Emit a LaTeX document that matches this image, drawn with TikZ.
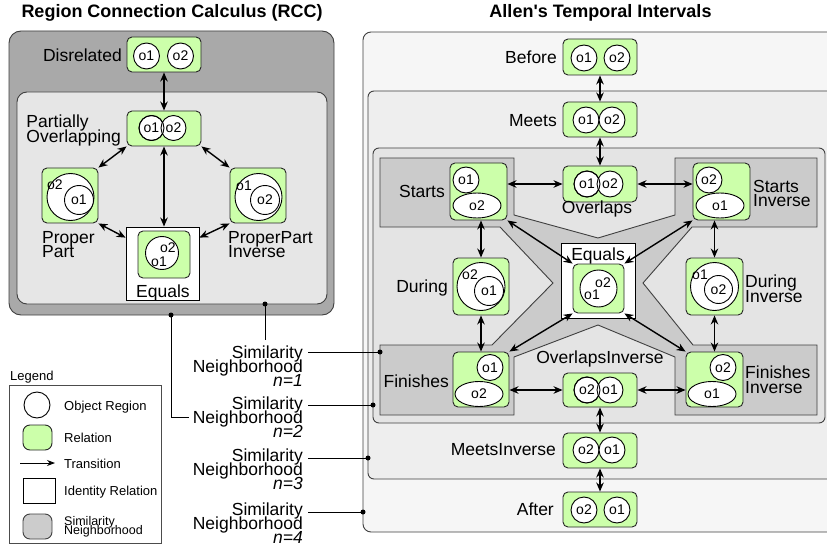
\documentclass[tikz,border=0pt]{standalone}
\usepackage{fontspec}
\setmainfont{Liberation Sans}[Ligatures=TeXOff]
\usetikzlibrary{arrows.meta,shapes.geometric}
\newcommand\myfs[2]{\fontsize{#1}{#2}\selectfont\lineskiplimit=-40pt\lineskip=0pt\relax}
\definecolor{relgreen}{HTML}{CCFFAA}
\definecolor{rccdark}{HTML}{A9A9A9}
\definecolor{rcclight}{HTML}{E6E6E6}
\definecolor{allout}{HTML}{F6F6F6}
\definecolor{alln3}{HTML}{EEEEEE}
\definecolor{alln2}{HTML}{E4E4E4}
\definecolor{alln1}{HTML}{CBCBCB}
\definecolor{leggray}{HTML}{CCCCCC}
\begin{document}
\begin{tikzpicture}[x=1pt,y=-1pt,
  rel/.style={draw=black!85, fill=relgreen, rounded corners=5pt, line width=0.9pt, inner sep=0pt},
  idbox/.style={draw=black, fill=white, line width=0.9pt, inner sep=0pt},
  obj/.style={circle, draw=black, fill=white, line width=0.9pt, inner sep=0pt, minimum size=26pt, font=\myfs{14}{14}},
  oell/.style={ellipse, draw=black, fill=white, line width=0.9pt, inner sep=0pt, minimum width=48pt, minimum height=25pt, font=\myfs{14}{14}},
  otxt/.style={inner sep=0pt, font=\myfs{14}{14}},
  lbl/.style={inner sep=0pt, font=\myfs{17.5}{14.5}},
  simlbl/.style={inner sep=0pt, font=\myfs{17.5}{14}, align=right},
  ttl/.style={inner sep=0pt, font=\bfseries\myfs{18}{18}},
  trans/.style={{Stealth[length=9pt,width=7.5pt]}-{Stealth[length=9pt,width=7.5pt]}, line width=1.4pt},
  region/.style={draw=black!75, line width=0.9pt},
  conn/.style={line width=0.9pt},
  dot/.style={circle, fill=black, inner sep=0pt, minimum size=5pt},
  legtxt/.style={inner sep=0pt, font=\myfs{13}{13}, anchor=base west},
]
\useasboundingbox (0,0) rectangle (827,548);
\clip (0,0) rectangle (827,548);
\fill[white] (0,0) rectangle (827,548);

% ---------------- RCC ----------------
\node[ttl, anchor=base] (t1) at (172,18) {Region Connection Calculus (RCC)};
\draw[region, fill=rccdark, rounded corners=12pt] (9,31) rectangle (334,315);
\draw[region, fill=rcclight, rounded corners=10pt] (17,92) rectangle (327,304);

\node[idbox, minimum width=73pt, minimum height=73pt] (reqw) at (162.5,263.5) {};

\node[rel, minimum width=74pt, minimum height=35pt] (dis) at (164,54.5) {};
\node[rel, minimum width=74pt, minimum height=35pt] (po) at (164,128.5) {};
\node[rel, minimum width=56pt, minimum height=55pt] (pp) at (70,195.5) {};
\node[rel, minimum width=56pt, minimum height=55pt] (ppi) at (258,195.5) {};
\node[rel, minimum width=52pt, minimum height=47pt] (req) at (164,254.5) {};

\node[obj] (dis1) at (146.5,56) {o1};
\node[obj] (dis2) at (180.5,56) {o2};
\node[obj, minimum size=25pt] (po1) at (151.5,128) {o1};
\node[obj, minimum size=25pt] (po2) at (173.5,128) {o2};
\draw[line width=0.9pt] (po1.center) circle (12.5);
\node[obj, minimum size=47pt] (ppb) at (70.5,197) {};
\node[obj, minimum size=29pt] (pps) at (79,200) {o1};
\node[otxt] (ppt) at (55,185) {o2};
\node[obj, minimum size=47pt] (ppib) at (258.5,197) {};
\node[obj, minimum size=29pt] (ppis) at (265,200) {o2};
\node[otxt] (ppit) at (244,186) {o1};
\node[obj, minimum size=33pt] (reqc) at (162,253) {};
\node[otxt] (reqt2) at (168,248) {o2};
\node[otxt] (reqt1) at (159,262) {o1};

\draw[trans] (dis.south) -- (po.north);
\draw[trans] (po.south) -- (po.south |- reqw.north);
\draw[trans] (po.south west) -- (pp.north east);
\draw[trans] (po.south east) -- (ppi.north west);
\draw[trans] (pp.south east) -- (reqw.145);
\draw[trans] (ppi.south west) -- (reqw.35);

\node[lbl, anchor=base east] (ldis) at (122,62) {Disrelated};
\node[lbl, anchor=north east, align=left] (lpo) at (121,115) {Partially\\Overlapping};
\node[lbl, anchor=north west, align=left] (lpp) at (42,231) {Proper\\Part};
\node[lbl, anchor=north west, align=left] (lppi) at (228,231) {ProperPart\\Inverse};
\node[lbl, anchor=base] (leq) at (163,297) {Equals};

% ---------------- Allen ----------------
\node[ttl, anchor=base] (t2) at (600.5,18) {Allen's Temporal Intervals};
\draw[region, fill=allout, rounded corners=8pt] (363,32) rectangle (860,532);
\draw[region, fill=alln3, rounded corners=6pt] (368,91) rectangle (850,479);
\draw[region, fill=alln2, rounded corners=6pt] (373,148) rectangle (825,423);
\draw[region, fill=alln1] (380,158) -- (514,158) -- (514,215) -- (598,238) -- (675,215) -- (675,158)
  -- (817,158) -- (817,227) -- (692,227) -- (643,283) -- (693,345) -- (817,345) -- (817,415)
  -- (675,415) -- (675,357) -- (598,325) -- (514,357) -- (514,415) -- (380,415) -- (380,345)
  -- (492,345) -- (553,283) -- (500,227) -- (380,227) -- cycle;

\node[idbox, minimum width=74pt, minimum height=75pt] (aeqw) at (598,280.5) {};

\node[rel, minimum width=74pt, minimum height=36pt] (bef) at (600,57) {};
\node[rel, minimum width=74pt, minimum height=35pt] (meets) at (600,119.5) {};
\node[rel, minimum width=74pt, minimum height=36pt] (ovl) at (600,184) {};
\node[rel, minimum width=57pt, minimum height=57pt] (starts) at (478.5,191.5) {};
\node[rel, minimum width=57pt, minimum height=57pt] (sinv) at (721.5,191.5) {};
\node[rel, minimum width=56pt, minimum height=57pt] (during) at (481,286.5) {};
\node[rel, minimum width=57pt, minimum height=57pt] (dinv) at (714.5,286.5) {};
\node[rel, minimum width=56pt, minimum height=55pt] (fin) at (481,379.5) {};
\node[rel, minimum width=57pt, minimum height=55pt] (finv) at (714.5,379.5) {};
\node[rel, minimum width=74pt, minimum height=34pt] (ovi) at (600,390) {};
\node[rel, minimum width=74pt, minimum height=35pt] (minv) at (600,450.5) {};
\node[rel, minimum width=74pt, minimum height=35pt] (after) at (600,509.5) {};
\node[rel, minimum width=51pt, minimum height=49pt] (aeq) at (598.5,288.5) {};

\node[obj] (bef1) at (584,58) {o1};
\node[obj] (bef2) at (617,58) {o2};
\node[obj] (meets1) at (586,120) {o1};
\node[obj] (meets2) at (612,120) {o2};
\node[obj] (ovl1) at (587,184) {o1};
\node[obj] (ovl2) at (610,184) {o2};
\draw[line width=0.9pt] (ovl1.center) circle (13);
\node[obj] (st1) at (466,180) {o1};
\node[oell] (st2) at (477,205.5) {o2};
\node[obj] (si2) at (709,180) {o2};
\node[oell] (si1) at (720,205.5) {o1};
\node[obj, minimum size=48pt] (dub) at (481,286.5) {};
\node[obj, minimum size=29pt] (dus) at (489,291) {o1};
\node[otxt] (dut) at (470,275) {o2};
\node[obj, minimum size=48pt] (dib) at (714.5,286.5) {};
\node[obj, minimum size=28pt] (dis) at (718.5,289.5) {o2};
\node[otxt] (dit) at (700,275) {o1};
\node[obj] (fi1) at (490,367.5) {o1};
\node[oell] (fi2) at (479,394) {o2};
\node[obj] (fv2) at (723,367.5) {o2};
\node[oell] (fv1) at (712,394) {o1};
\node[obj] (ovi2) at (587,390) {o2};
\node[obj] (ovi1) at (610,390) {o1};
\draw[line width=0.9pt] (ovi2.center) circle (13);
\node[obj] (mi2) at (586,450) {o2};
\node[obj] (mi1) at (612,450) {o1};
\node[obj] (af2) at (584,510) {o2};
\node[obj] (af1) at (617,510) {o1};
\node[obj, minimum size=37pt] (aeqc) at (598.5,288.5) {};
\node[otxt] (aeqt2) at (603,283) {o2};
\node[otxt] (aeqt1) at (592,295) {o1};

\draw[trans] (bef.south) -- (meets.north);
\draw[trans] (meets.south) -- (ovl.north);
\draw[trans] (ovl.west -| starts.east) -- (ovl.west);
\draw[trans] (ovl.east) -- (ovl.east -| sinv.west);
\draw[trans] (during.north |- starts.south) -- (during.north);
\draw[trans] (dinv.north |- sinv.south) -- (dinv.north);
\draw[trans] (during.south) -- (during.south |- fin.north);
\draw[trans] (dinv.south) -- (dinv.south |- finv.north);
\draw[trans] (fin.east |- ovi.west) -- (ovi.west);
\draw[trans] (ovi.east) -- (ovi.east -| finv.west);
\draw[trans] (ovi.south) -- (minv.north);
\draw[trans] (minv.south) -- (after.north);
\draw[trans] (starts.south east) -- (aeq.north west);
\draw[trans] (sinv.south west) -- (aeq.north east);
\draw[trans] (fin.north east) -- (aeq.south west);
\draw[trans] (finv.north west) -- (aeq.south east);

\node[lbl, anchor=base east] (lbef) at (557,64) {Before};
\node[lbl, anchor=base east] (lmeets) at (557,127) {Meets};
\node[lbl, anchor=base east] (lstarts) at (445,198) {Starts};
\node[lbl, anchor=base] (lovl) at (597,214) {Overlaps};
\node[lbl, anchor=north west, align=left] (lsinv) at (753,180) {Starts\\Inverse};
\node[lbl, anchor=base] (laeq) at (598,260) {Equals};
\node[lbl, anchor=base east] (ldur) at (448,292) {During};
\node[lbl, anchor=north west, align=left] (ldinv) at (745,275) {During\\Inverse};
\node[lbl, anchor=base east] (lfin) at (449,387) {Finishes};
\node[lbl, anchor=base] (lovi) at (600,363) {OverlapsInverse};
\node[lbl, anchor=north west, align=left] (lfinv) at (745,366) {Finishes\\Inverse};
\node[lbl, anchor=base east] (lminv) at (556,455) {MeetsInverse};
\node[lbl, anchor=base east] (lafter) at (554,515) {After};

% ---------------- Similarity neighborhoods ----------------
\node[simlbl, anchor=north east] (sn1) at (303,346) {Similarity\\Neighborhood\\{\itshape n=1}};
\node[simlbl, anchor=north east] (sn2) at (303,397) {Similarity\\Neighborhood\\{\itshape n=2}};
\node[simlbl, anchor=north east] (sn3) at (303,449) {Similarity\\Neighborhood\\{\itshape n=3}};
\node[simlbl, anchor=north east] (sn4) at (303,503) {Similarity\\Neighborhood\\{\itshape n=4}};

\coordinate (s1) at (308,352);
\coordinate (s2) at (308,405);
\coordinate (s3) at (308,458);
\coordinate (s4) at (308,512);
\node[dot] (d1) at (380,352) {};
\node[dot] (d2) at (373,405) {};
\node[dot] (d3) at (368,458) {};
\node[dot] (d4) at (363,512) {};
\draw[conn] (s1) -- (d1.center);
\draw[conn] (s2) -- (d2.center);
\draw[conn] (s3) -- (d3.center);
\draw[conn] (s4) -- (d4.center);

\node[dot] (r1) at (265,304) {};
\coordinate (r1e) at (265,340);
\draw[conn] (r1.center) -- (r1e);
\node[dot] (r2) at (171,315) {};
\coordinate (r2e) at (189,417);
\draw[conn] (r2.center) |- (r2e);

% ---------------- Legend ----------------
\node[legtxt] (lgt) at (10,380) {Legend};
\draw[draw=black!70, fill=white, line width=0.9pt] (9,385) rectangle (161,543);
\node[obj] (lgc) at (37,405) {};
\node[legtxt] (lg1) at (64,410) {Object Region};
\node[rel, rounded corners=7pt, minimum width=29pt, minimum height=25pt] (lgr) at (37.5,437.5) {};
\node[legtxt] (lg2) at (64,442) {Relation};
\coordinate (la1) at (20,463);
\coordinate (la2) at (55,463);
\draw[-{Stealth[length=8pt,width=6pt]}, line width=0.9pt] (la1) -- (la2);
\node[legtxt] (lg3) at (64,468) {Transition};
\node[idbox, minimum width=32pt, minimum height=25pt] (lgi) at (39,490.5) {};
\node[legtxt] (lg4) at (64,495) {Identity Relation};
\node[region, fill=leggray, rounded corners=7pt, minimum width=29pt, minimum height=25pt, inner sep=0pt] (lgs) at (37.5,526.5) {};
\node[inner sep=0pt, font=\myfs{12.5}{9.5}, align=left, anchor=north west] (lg5) at (64,516) {Similarity\\Neighborhood};
\end{tikzpicture}
\end{document}
